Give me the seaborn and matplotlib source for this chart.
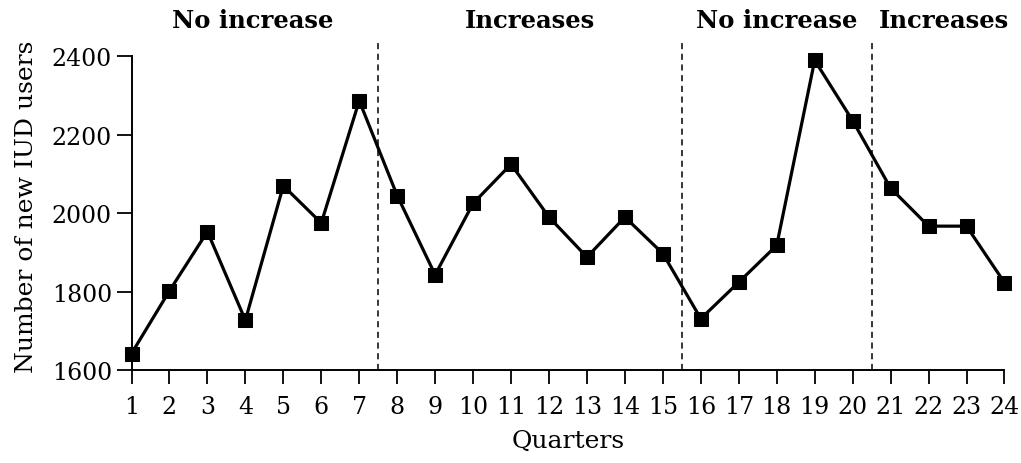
import numpy as np
import pandas as pd
import matplotlib
matplotlib.use("Agg")
import matplotlib.pyplot as plt
import seaborn as sns

# Quarterly counts of new IUD users
quarters = list(range(1, 25))
new_users = [1642, 1802, 1953, 1727, 2070, 1975, 2287, 2045, 1843, 2025,
             2125, 1990, 1888, 1990, 1897, 1731, 1824, 1918, 2390, 2236,
             2064, 1967, 1967, 1823]

# Period boundaries and labels
boundaries = [7.5, 15.5, 20.5]
period_labels = ["No increase", "Increases", "No increase", "Increases"]
period_centers = [4.2, 11.5, 18.0, 22.4]

y_ticks = [1600, 1800, 2000, 2200, 2400]

sns.set_style("ticks")
plt.rcParams["font.family"] = ["DejaVu Serif"]
plt.rcParams["text.color"] = "black"
plt.rcParams["axes.labelcolor"] = "black"

df = pd.DataFrame({"Quarter": quarters, "Users": new_users})

fig = plt.figure(figsize=(10.21, 4.64), dpi=100)
ax = fig.add_axes([0.1288, 0.2004, 0.855, 0.7097])

sns.lineplot(data=df, x="Quarter", y="Users", ax=ax, color="black",
             linewidth=2.3, marker="s", markersize=9.5,
             markerfacecolor="black", markeredgecolor="black",
             clip_on=False, zorder=5)

for b in boundaries:
    ax.axvline(b, ymin=0, ymax=1, color="black", linewidth=1.1,
               linestyle=(0, (4, 3)))

ax.set_xlim(1, 24)
ax.set_ylim(1600, 2440)
ax.set_xticks(quarters)
ax.set_yticks(y_ticks)
ax.tick_params(axis="both", labelsize=17, colors="black", width=1.3)
ax.tick_params(axis="x", length=10, pad=8)
ax.tick_params(axis="y", length=11, pad=3)

for s in ["top", "right"]:
    ax.spines[s].set_visible(False)
for s in ["left", "bottom"]:
    ax.spines[s].set_color("black")
    ax.spines[s].set_linewidth(1.4)
ax.spines["left"].set_bounds(1600, 2400)

ax.set_xlabel("Quarters", fontsize=18, labelpad=8)
ax.set_ylabel("Number of new IUD users", fontsize=18)
ax.yaxis.set_label_coords(-0.107, 0.5)

for label, cx in zip(period_labels, period_centers):
    ax.text(cx, 1.062, label, transform=ax.get_xaxis_transform(),
            ha="center", va="center", fontsize=17.5, fontweight="bold")

fig.savefig("out.png", dpi=100)
